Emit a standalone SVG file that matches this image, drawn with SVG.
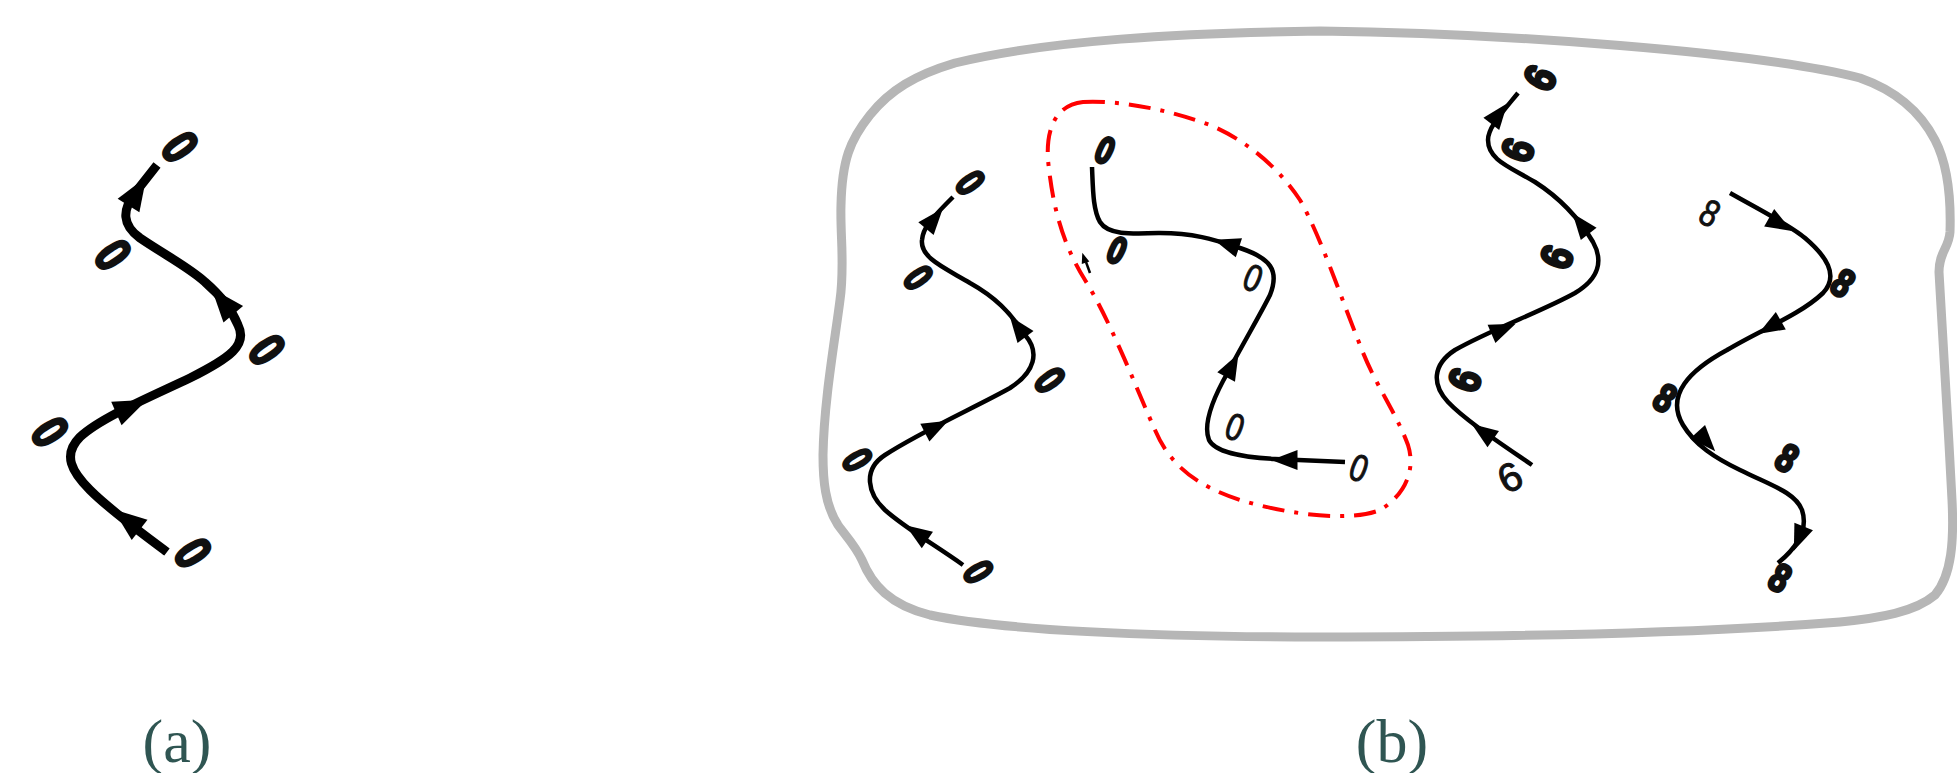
<svg xmlns="http://www.w3.org/2000/svg" xmlns:xlink="http://www.w3.org/1999/xlink" width="1957" height="773" viewBox="0 0 1957 773">
  <style>
    .bg { fill: #ffffff; }
    .wire { fill: none; stroke: #000; stroke-linecap: butt; stroke-linejoin: round; }
    .wa { stroke-width: 9; }
    .wb { stroke-width: 4.5; }
    .frame { fill: none; stroke: #b6b6b6; stroke-width: 9; }
    .group { fill: none; stroke: #ff0000; stroke-width: 4; stroke-dasharray: 22 10 4 10; }
    .dig { font-family: "Liberation Sans", "DejaVu Sans", sans-serif; text-anchor: middle; dominant-baseline: central; fill: #111; stroke: #111; stroke-linejoin: round; }
    .heavy { font-weight: bold; stroke-width: 3; }
    .light { font-weight: normal; stroke-width: 1; }
    .cap { font-family: "Liberation Serif", "Times New Roman", serif; font-size: 62px; fill: #2f5552; text-anchor: middle; }
  </style>
  <defs>
    <path id="ah" d="M11,0 L-10,-8 L-10,8 Z" fill="#000"/>
  </defs>

  <rect class="bg" x="0" y="0" width="1957" height="773"/>

  <!-- outer boundary of panel (b) -->
  <g id="frame-b">
    <path class="frame" d="M1320,31 C1500,33 1760,52 1860,78 C1900,92 1922,115 1935,140 C1948,165 1951,200 1950,232 C1949,248 1939,252 1939,272 C1942,330 1948,420 1952,500 C1954,540 1952,575 1935,595 C1915,612 1880,618 1840,622 C1700,633 1500,637 1320,637 C1150,637 1000,630 930,615 C890,605 872,585 862,560 C855,545 845,535 838,525 C825,505 823,480 823,455 C824,400 835,340 840,300 C845,265 840,235 841,205 C842,160 850,140 870,115 C890,90 915,75 955,63 C1050,40 1180,33 1320,31 Z"/>
  </g>

  <!-- dash-dot grouping around the middle chain -->
  <g id="group-outline">
    <path class="group" d="M1083,102 C1120,100 1170,110 1210,125 C1250,142 1280,170 1300,200 C1320,235 1340,295 1360,345 C1375,385 1395,410 1408,445 C1416,470 1405,495 1380,510 C1350,522 1290,515 1240,500 C1195,485 1170,465 1155,430 C1135,385 1110,320 1085,280 C1060,240 1052,200 1048,160 C1046,130 1055,105 1083,102 Z"/>
    <line x1="1090" y1="273" x2="1086" y2="262" stroke="#000" stroke-width="2.5"/>
    <use href="#ah" transform="translate(1084,258) rotate(-108) scale(0.5)"/>
  </g>

  <!-- connectors -->
  <g id="connectors">
    <!-- panel (a) chain -->
    <path class="wire wa" d="M167,552 C140,532 110,510 90,490 C72,472 62,455 80,437 C100,418 150,397 190,378 C230,358 248,345 238,325 C232,310 220,295 205,282 C190,268 165,255 140,238 C122,225 122,210 135,193 L157,165"/>
    <use href="#ah" transform="translate(127,520) rotate(-142) scale(1.6)"/>
    <use href="#ah" transform="translate(131,407) rotate(-24) scale(1.6)"/>
    <use href="#ah" transform="translate(223,302) rotate(-130) scale(1.6)"/>
    <use href="#ah" transform="translate(137,192) rotate(-58) scale(1.6)"/>

    <!-- panel (b) chain of zeros -->
    <path class="wire wb" d="M963,565 C935,545 905,528 885,510 C868,494 862,470 885,455 C920,432 980,405 1010,388 C1035,372 1040,352 1025,335 C1010,312 995,297 970,283 C945,268 920,258 922,240 C923,228 930,220 953,197"/>
    <use href="#ah" transform="translate(917,533) rotate(-146) scale(1.25)"/>
    <use href="#ah" transform="translate(936,427) rotate(-27) scale(1.25)"/>
    <use href="#ah" transform="translate(1018,327) rotate(-127) scale(1.25)"/>
    <use href="#ah" transform="translate(934,219) rotate(-50) scale(1.25)"/>

    <!-- panel (b) grouped chain -->
    <path class="wire wb" d="M1345,462 L1275,459 C1240,457 1215,452 1209,440 C1203,425 1212,400 1228,372 C1245,340 1260,315 1270,295 C1280,270 1270,258 1240,248 C1215,240 1195,233 1160,233 C1130,234 1108,235 1100,222 C1093,210 1093,190 1092,167"/>
    <use href="#ah" transform="translate(1285,460) rotate(180) scale(1.25)"/>
    <use href="#ah" transform="translate(1232,366) rotate(-62) scale(1.25)"/>
    <use href="#ah" transform="translate(1227,244) rotate(-162) scale(1.25)"/>

    <!-- panel (b) chain of sixes -->
    <path class="wire wb" d="M1532,465 C1500,443 1465,420 1448,402 C1432,385 1432,365 1455,350 C1490,330 1545,310 1575,293 C1600,278 1603,260 1593,242 C1580,220 1560,198 1535,182 C1510,167 1488,160 1488,140 C1488,128 1500,115 1518,93"/>
    <use href="#ah" transform="translate(1483,432) rotate(-145) scale(1.25)"/>
    <use href="#ah" transform="translate(1503,329) rotate(-23) scale(1.25)"/>
    <use href="#ah" transform="translate(1581,224) rotate(-128) scale(1.25)"/>
    <use href="#ah" transform="translate(1499,114) rotate(-52) scale(1.25)"/>

    <!-- panel (b) chain of eights -->
    <path class="wire wb" d="M1730,193 C1760,210 1790,225 1805,238 C1825,255 1840,275 1823,293 C1800,315 1760,330 1727,350 C1690,370 1665,395 1683,425 C1695,445 1715,458 1740,470 C1770,485 1795,492 1802,510 C1808,528 1800,545 1778,563"/>
    <use href="#ah" transform="translate(1780,224) rotate(30) scale(1.25)"/>
    <use href="#ah" transform="translate(1770,327) rotate(150) scale(1.25)"/>
    <use href="#ah" transform="translate(1706,441) rotate(48) scale(1.25)"/>
    <use href="#ah" transform="translate(1799,538) rotate(112) scale(1.25)"/>
  </g>

  <!-- panel (a) digits -->
  <g id="a0-1"><text class="dig heavy" font-size="52" transform="translate(193,553) rotate(58) scale(0.76,1)">0</text></g>
  <g id="a0-2"><text class="dig heavy" font-size="52" transform="translate(50,432) rotate(58) scale(0.76,1)">0</text></g>
  <g id="a0-3"><text class="dig heavy" font-size="52" transform="translate(267,350) rotate(55) scale(0.76,1)">0</text></g>
  <g id="a0-4"><text class="dig heavy" font-size="52" transform="translate(113,255) rotate(55) scale(0.76,1)">0</text></g>
  <g id="a0-5"><text class="dig heavy" font-size="52" transform="translate(180,147) rotate(55) scale(0.76,1)">0</text></g>

  <!-- panel (b) chain of zeros -->
  <g id="b0-1"><text class="dig heavy" font-size="42" transform="translate(978,572) rotate(60) scale(0.74,1)">0</text></g>
  <g id="b0-2"><text class="dig heavy" font-size="42" transform="translate(857,460) rotate(60) scale(0.74,1)">0</text></g>
  <g id="b0-3"><text class="dig heavy" font-size="44" transform="translate(1050,380) rotate(55) scale(0.74,1)">0</text></g>
  <g id="b0-4"><text class="dig heavy" font-size="42" transform="translate(918,278) rotate(55) scale(0.74,1)">0</text></g>
  <g id="b0-5"><text class="dig heavy" font-size="42" transform="translate(970,183) rotate(55) scale(0.74,1)">0</text></g>

  <!-- panel (b) grouped zeros -->
  <g id="g0-1"><text class="dig light" font-size="38" transform="translate(1359,468) rotate(20) scale(0.8,1)">0</text></g>
  <g id="g0-2"><text class="dig light" font-size="38" transform="translate(1235,427) rotate(20) scale(0.8,1)">0</text></g>
  <g id="g0-3"><text class="dig light" font-size="38" transform="translate(1253,278) rotate(22) scale(0.8,1)">0</text></g>
  <g id="g0-4"><text class="dig heavy" font-size="38" transform="translate(1117,250) rotate(25) scale(0.78,1)">0</text></g>
  <g id="g0-5"><text class="dig heavy" font-size="38" transform="translate(1105,150) rotate(25) scale(0.78,1)">0</text></g>

  <!-- panel (b) sixes -->
  <g id="b6-1"><text class="dig light" font-size="40" transform="translate(1510,477) rotate(-25)">6</text></g>
  <g id="b6-2"><text class="dig heavy" font-size="44" transform="translate(1465,380) rotate(-70) scale(0.85,1)">6</text></g>
  <g id="b6-3"><text class="dig heavy" font-size="44" transform="translate(1557,257) rotate(-70) scale(0.85,1)">6</text></g>
  <g id="b6-4"><text class="dig heavy" font-size="44" transform="translate(1518,150) rotate(-70) scale(0.85,1)">6</text></g>
  <g id="b6-5"><text class="dig heavy" font-size="44" transform="translate(1540,78) rotate(-62) scale(0.85,1)">6</text></g>

  <!-- panel (b) eights -->
  <g id="b8-1"><text class="dig light" font-size="38" transform="translate(1710,213) rotate(28) scale(0.8,1)">8</text></g>
  <g id="b8-2"><text class="dig heavy" font-size="40" transform="translate(1843,283) rotate(35) scale(0.8,1)">8</text></g>
  <g id="b8-3"><text class="dig heavy" font-size="40" transform="translate(1665,398) rotate(32) scale(0.8,1)">8</text></g>
  <g id="b8-4"><text class="dig heavy" font-size="40" transform="translate(1787,458) rotate(32) scale(0.8,1)">8</text></g>
  <g id="b8-5"><text class="dig heavy" font-size="40" transform="translate(1780,578) rotate(30) scale(0.8,1)">8</text></g>

  <!-- captions -->
  <g id="caption-a"><text class="cap" x="177" y="762">(a)</text></g>
  <g id="caption-b"><text class="cap" x="1392" y="762">(b)</text></g>
</svg>
